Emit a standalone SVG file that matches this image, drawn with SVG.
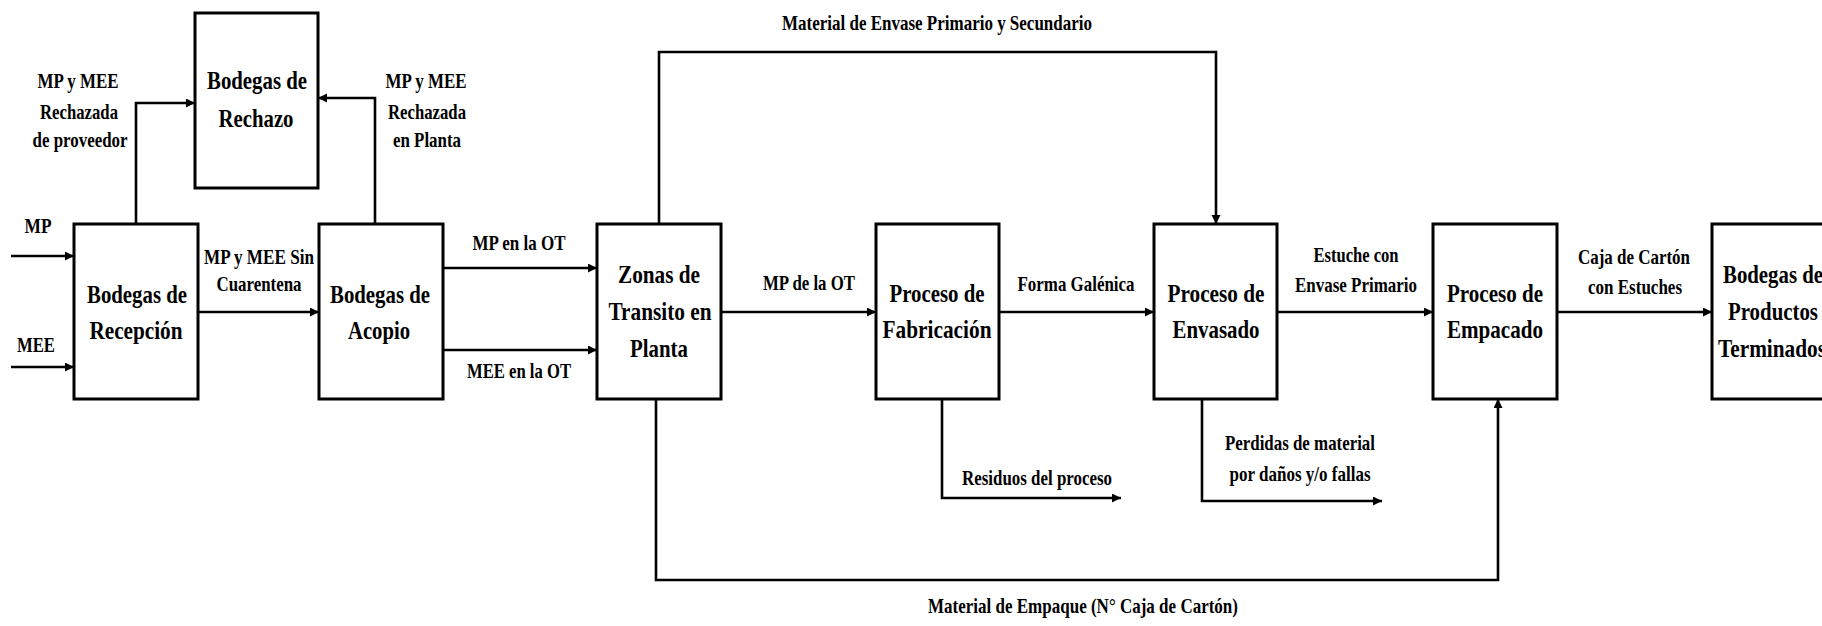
<svg xmlns="http://www.w3.org/2000/svg" width="1822" height="626" viewBox="0 0 1822 626">
  <style>
    .box { fill: #ffffff; stroke: #000000; stroke-width: 3; }
    .wire { fill: none; stroke: #000000; stroke-width: 2.6; }
    .arr { marker-end: url(#head); }
    text { font-family: 'Liberation Serif', 'DejaVu Serif', 'Times New Roman', serif; font-weight: bold; fill: #000000; text-anchor: middle; }
    .nt { font-size: 26px; }
    .lb { font-size: 22px; }
  </style>
  <defs>
    <marker id="head" markerUnits="userSpaceOnUse" markerWidth="10" markerHeight="10" refX="9" refY="4.5" orient="auto">
      <path d="M0,0 L9,4.5 L0,9 z" fill="#000000"/>
    </marker>
  </defs>

  <rect width="1822" height="626" fill="#ffffff"/>

  <!-- nodes -->
  <g font-family="Liberation Serif, serif" font-weight="bold">
  <g id="rechazo">
    <rect class="box" x="195" y="13" width="123" height="175"/>
    <text class="nt" x="257" y="89" textLength="100" lengthAdjust="spacingAndGlyphs">Bodegas de</text>
    <text class="nt" x="256" y="127" textLength="75" lengthAdjust="spacingAndGlyphs">Rechazo</text>
  </g>
  <g id="recepcion">
    <rect class="box" x="74" y="224" width="124" height="175"/>
    <text class="nt" x="137" y="303" textLength="100" lengthAdjust="spacingAndGlyphs">Bodegas de</text>
    <text class="nt" x="136" y="339" textLength="93" lengthAdjust="spacingAndGlyphs">Recepción</text>
  </g>
  <g id="acopio">
    <rect class="box" x="319" y="224" width="124" height="175"/>
    <text class="nt" x="380" y="303" textLength="100" lengthAdjust="spacingAndGlyphs">Bodegas de</text>
    <text class="nt" x="379" y="339" textLength="62" lengthAdjust="spacingAndGlyphs">Acopio</text>
  </g>
  <g id="zonas">
    <rect class="box" x="597" y="224" width="124" height="175"/>
    <text class="nt" x="659" y="283" textLength="82" lengthAdjust="spacingAndGlyphs">Zonas de</text>
    <text class="nt" x="660" y="320" textLength="103" lengthAdjust="spacingAndGlyphs">Transito en</text>
    <text class="nt" x="659" y="357" textLength="58" lengthAdjust="spacingAndGlyphs">Planta</text>
  </g>
  <g id="fabricacion">
    <rect class="box" x="876" y="224" width="123" height="175"/>
    <text class="nt" x="937" y="302" textLength="95" lengthAdjust="spacingAndGlyphs">Proceso de</text>
    <text class="nt" x="937" y="338" textLength="109" lengthAdjust="spacingAndGlyphs">Fabricación</text>
  </g>
  <g id="envasado">
    <rect class="box" x="1154" y="224" width="123" height="175"/>
    <text class="nt" x="1216" y="302" textLength="97" lengthAdjust="spacingAndGlyphs">Proceso de</text>
    <text class="nt" x="1216" y="338" textLength="87" lengthAdjust="spacingAndGlyphs">Envasado</text>
  </g>
  <g id="empacado">
    <rect class="box" x="1433" y="224" width="124" height="175"/>
    <text class="nt" x="1495" y="302" textLength="96" lengthAdjust="spacingAndGlyphs">Proceso de</text>
    <text class="nt" x="1495" y="338" textLength="96" lengthAdjust="spacingAndGlyphs">Empacado</text>
  </g>
  <g id="terminados">
    <rect class="box" x="1712" y="224" width="124" height="175"/>
    <text class="nt" x="1773" y="283" textLength="100" lengthAdjust="spacingAndGlyphs">Bodegas de</text>
    <text class="nt" x="1773" y="320" textLength="90" lengthAdjust="spacingAndGlyphs">Productos</text>
    <text class="nt" x="1772" y="357" textLength="108" lengthAdjust="spacingAndGlyphs">Terminados</text>
  </g>
  </g>

  <!-- connectors -->
  <g id="connectors">
    <path class="wire arr" d="M11,256 H74"/>
    <path class="wire arr" d="M11,367 H74"/>
    <path class="wire arr" d="M136,224 V103 H195"/>
    <path class="wire arr" d="M375,224 V98 H318"/>
    <path class="wire arr" d="M198,312 H319"/>
    <path class="wire arr" d="M443,268 H597"/>
    <path class="wire arr" d="M443,350 H597"/>
    <path class="wire arr" d="M721,312 H876"/>
    <path class="wire arr" d="M999,312 H1154"/>
    <path class="wire arr" d="M1277,312 H1433"/>
    <path class="wire arr" d="M1557,312 H1712"/>
    <path class="wire arr" d="M659,224 V52 H1216 V224"/>
    <path class="wire arr" d="M656,399 V580 H1498 V399"/>
    <path class="wire arr" d="M942,399 V498 H1121"/>
    <path class="wire arr" d="M1202,399 V501 H1382"/>
  </g>

  <!-- connector labels -->
  <g id="labels" font-family="Liberation Serif, serif" font-weight="bold">
    <text class="lb" x="38" y="233" textLength="27" lengthAdjust="spacingAndGlyphs">MP</text>
    <text class="lb" x="36" y="352" textLength="38" lengthAdjust="spacingAndGlyphs">MEE</text>

    <text class="lb" x="78" y="88" textLength="81" lengthAdjust="spacingAndGlyphs">MP y MEE</text>
    <text class="lb" x="79" y="119" textLength="78" lengthAdjust="spacingAndGlyphs">Rechazada</text>
    <text class="lb" x="80" y="147" textLength="95" lengthAdjust="spacingAndGlyphs">de proveedor</text>

    <text class="lb" x="426" y="88" textLength="81" lengthAdjust="spacingAndGlyphs">MP y MEE</text>
    <text class="lb" x="427" y="119" textLength="78" lengthAdjust="spacingAndGlyphs">Rechazada</text>
    <text class="lb" x="427" y="147" textLength="68" lengthAdjust="spacingAndGlyphs">en Planta</text>

    <text class="lb" x="259" y="264" textLength="110" lengthAdjust="spacingAndGlyphs">MP y MEE Sin</text>
    <text class="lb" x="259" y="291" textLength="85" lengthAdjust="spacingAndGlyphs">Cuarentena</text>

    <text class="lb" x="519" y="250" textLength="93" lengthAdjust="spacingAndGlyphs">MP en la OT</text>
    <text class="lb" x="519" y="378" textLength="104" lengthAdjust="spacingAndGlyphs">MEE en la OT</text>

    <text class="lb" x="809" y="290" textLength="92" lengthAdjust="spacingAndGlyphs">MP de la OT</text>
    <text class="lb" x="1076" y="291" textLength="117" lengthAdjust="spacingAndGlyphs">Forma Galénica</text>

    <text class="lb" x="1356" y="262" textLength="85" lengthAdjust="spacingAndGlyphs">Estuche con</text>
    <text class="lb" x="1356" y="292" textLength="122" lengthAdjust="spacingAndGlyphs">Envase Primario</text>

    <text class="lb" x="1634" y="264" textLength="112" lengthAdjust="spacingAndGlyphs">Caja de Cartón</text>
    <text class="lb" x="1635" y="294" textLength="94" lengthAdjust="spacingAndGlyphs">con Estuches</text>

    <text class="lb" x="937" y="30" textLength="310" lengthAdjust="spacingAndGlyphs">Material de Envase Primario y Secundario</text>
    <text class="lb" x="1083" y="613" textLength="310" lengthAdjust="spacingAndGlyphs">Material de Empaque (N° Caja de Cartón)</text>

    <text class="lb" x="1037" y="485" textLength="150" lengthAdjust="spacingAndGlyphs">Residuos del proceso</text>
    <text class="lb" x="1300" y="450" textLength="150" lengthAdjust="spacingAndGlyphs">Perdidas de material</text>
    <text class="lb" x="1300" y="481" textLength="141" lengthAdjust="spacingAndGlyphs">por daños y/o fallas</text>
  </g>
</svg>
